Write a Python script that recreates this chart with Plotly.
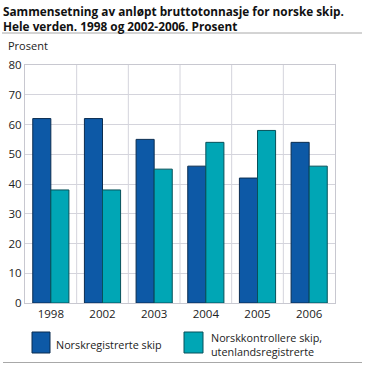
import plotly.graph_objects as go

years = ["1998", "2002", "2003", "2004", "2005", "2006"]
norskreg = [62, 62, 55, 46, 42, 54]
norskkontr = [38, 38, 45, 54, 58, 46]
series_names = ["Norskregistrerte skip", "Norskkontrollere skip,<br>utenlandsregistrerte"]
y_ticks = [0, 10, 20, 30, 40, 50, 60, 70, 80]
colors = ["#0d59a6", "#00a6b5"]
edge_colors = ["#0b2d50", "#07515a"]

FONT = "Open Sans"
L, R, T, B, W, H = 25, 31, 65, 62, 366, 365
PW, PH = W - L - R, H - T - B


def px(xp):
    return (xp - L) / PW


def py(yp):
    return (H - B - yp) / PH


fig = go.Figure()
for name, vals, c, ec in zip(series_names, [norskreg, norskkontr], colors, edge_colors):
    fig.add_trace(go.Bar(x=years, y=vals, name=name, showlegend=False,
                         marker=dict(color=c, line=dict(color=ec, width=1))))

shapes = [
    dict(type="line", xref="paper", yref="paper", x0=px(2), x1=px(362),
         y0=py(33), y1=py(33), line=dict(color="#a8a8a8", width=1)),
    dict(type="line", xref="paper", yref="paper", x0=px(3), x1=px(362),
         y0=py(362.5), y1=py(362.5), line=dict(color="#a8a8a8", width=1)),
]
shapes += [
    dict(type="line", xref="x", yref="paper", x0=i + 0.5, x1=i + 0.5, y0=0, y1=1,
         line=dict(color="#d4d4dc", width=1), layer="below")
    for i in range(len(years) - 1)
]
# legend swatches
for x0, x1, c, ec in [(32, 50, colors[0], edge_colors[0]), (184, 203, colors[1], edge_colors[1])]:
    shapes.append(dict(type="rect", xref="paper", yref="paper", x0=px(x0), x1=px(x1),
                       y0=py(353), y1=py(332), fillcolor=c, line=dict(color=ec, width=1)))

annotations = [
    dict(text="<b>Sammensetning av anløpt bruttotonnasje for norske skip.<br>Hele verden. 1998 og 2002-2006. Prosent</b>",
         xref="paper", yref="paper", x=px(1), y=py(1), xanchor="left", yanchor="top",
         align="left", showarrow=False, font=dict(family=FONT, size=11.8, color="#111")),
    dict(text="Prosent", xref="paper", yref="paper", x=px(6), y=py(45),
         xanchor="left", yanchor="middle", showarrow=False,
         font=dict(size=11, color="#222")),
    dict(text=series_names[0], xref="paper", yref="paper", x=px(54), y=py(344),
         xanchor="left", yanchor="middle", showarrow=False, align="left",
         font=dict(size=10.8, color="#222")),
    dict(text=series_names[1], xref="paper", yref="paper", x=px(209), y=py(344),
         xanchor="left", yanchor="middle", showarrow=False, align="left",
         font=dict(size=10.8, color="#222")),
]

fig.update_layout(
    width=W, height=H,
    margin=dict(l=L, r=R, t=T, b=B, autoexpand=False),
    paper_bgcolor="white", plot_bgcolor="white",
    barmode="group", bargap=0.3, bargroupgap=0,
    font=dict(family=FONT, size=12, color="#222"),
    showlegend=False,
    xaxis=dict(showgrid=False, showline=True, linecolor="#c8c8d0", mirror=True,
               ticks="", tickfont=dict(size=11.5)),
    yaxis=dict(range=[0, 80], tickvals=y_ticks, showgrid=True, gridcolor="#d4d4dc",
               gridwidth=1, showline=True, linecolor="#c8c8d0", mirror=True,
               zeroline=False, ticks="", tickfont=dict(size=11.5)),
    shapes=shapes,
    annotations=annotations,
)
fig.write_html("out.html", config={"displayModeBar": False},
               post_script="document.body.style.margin='0';document.body.style.overflow='hidden';")
